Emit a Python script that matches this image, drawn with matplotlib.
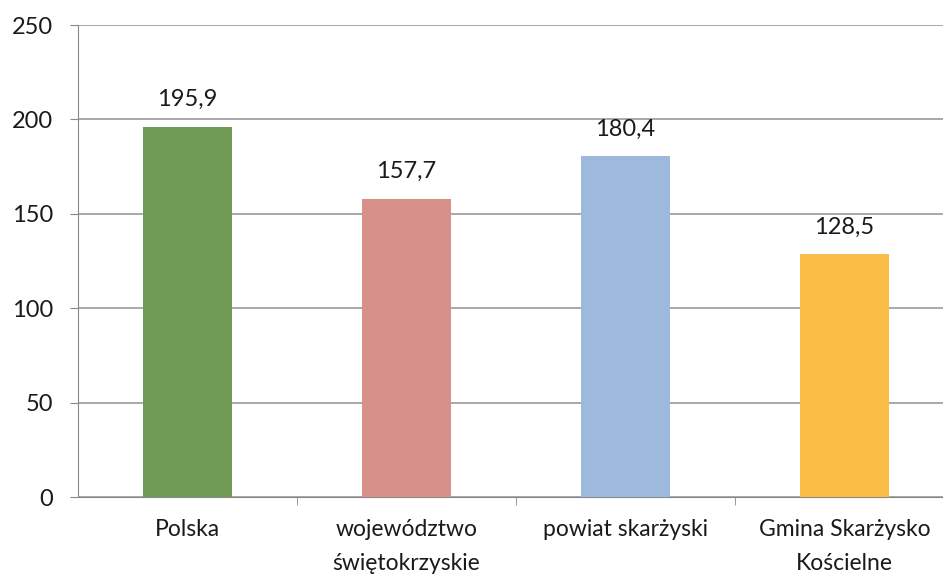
import matplotlib.pyplot as plt

plt.rcParams['font.family'] = ['Lato', 'DejaVu Sans']

categories = ['Polska', 'województwo\nświętokrzyskie', 'powiat skarżyski', 'Gmina Skarżysko\nKościelne']
values = [195.9, 157.7, 180.4, 128.5]
value_labels = ['195,9', '157,7', '180,4', '128,5']
colors = ['#6e9a55', '#d8918a', '#9db9dc', '#fcbd47']
yticks = [0, 50, 100, 150, 200, 250]

fig = plt.figure(figsize=(9.43, 5.74), dpi=100)
ax = fig.add_axes([78 / 943, 1 - 497 / 574, 865 / 943, 472 / 574])

x = range(len(categories))
ax.bar(x, values, width=0.41, color=colors, zorder=3)
for xi, v, lab in zip(x, values, value_labels):
    ax.text(xi, v + 9, lab, ha='center', va='bottom', fontsize=17, color='#1a1a1a')

ax.set_xlim(-0.5, 3.45)
ax.set_ylim(0, 250)
ax.set_yticks(yticks)
ax.set_yticklabels([str(t) for t in yticks], fontsize=17, color='#1a1a1a')
ax.yaxis.grid(True, color='#9a9a9a', linewidth=1.2, zorder=0)

ax.set_xticks(list(x))
ax.set_xticklabels(categories, fontsize=16.5, color='#1a1a1a', linespacing=1.75)
ax.tick_params(axis='x', length=0, pad=16)
ax.set_xticks([0.5, 1.5, 2.5], minor=True)
ax.tick_params(axis='x', which='minor', length=6, color='#888888')
ax.tick_params(axis='y', length=6, color='#888888', pad=12)

for s in ['top', 'right']:
    ax.spines[s].set_visible(False)
ax.spines['left'].set_color('#888888')
ax.spines['bottom'].set_color('#888888')

fig.savefig('out.png', dpi=100)
